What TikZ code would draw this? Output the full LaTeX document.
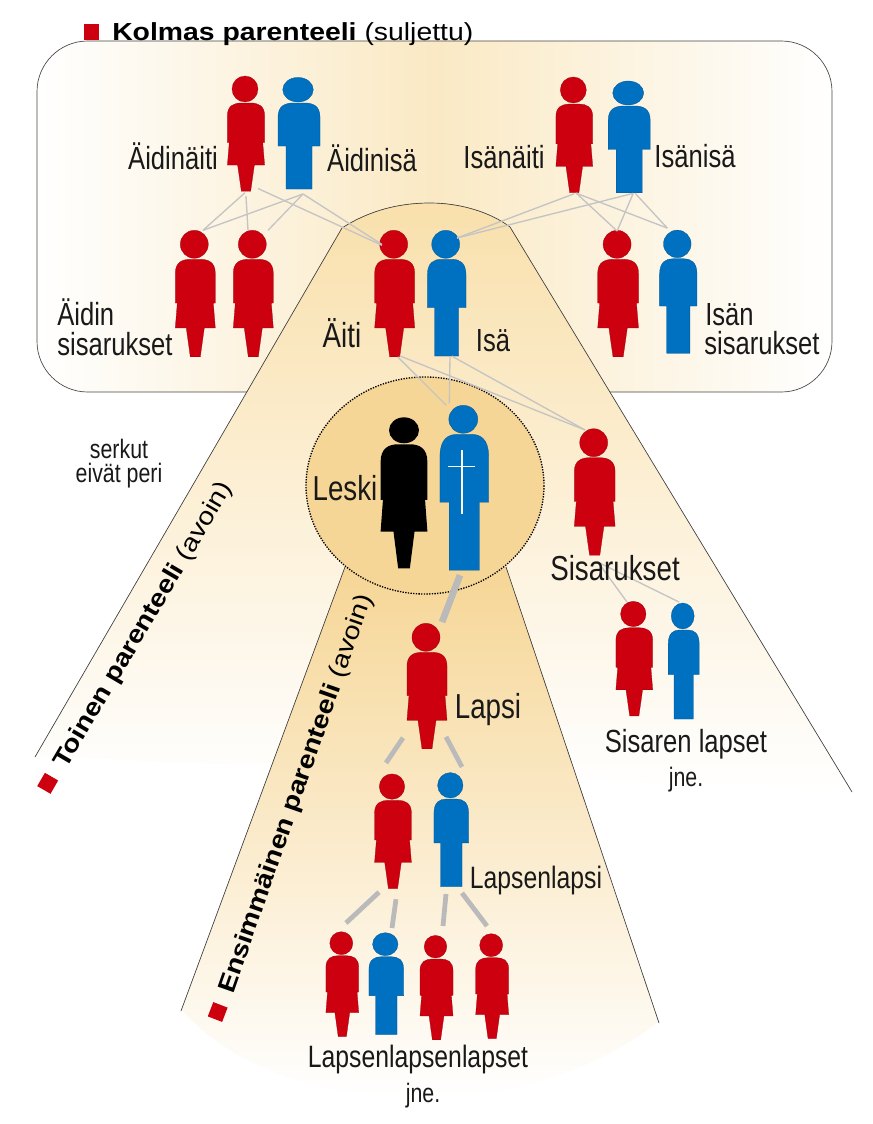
\documentclass[tikz,border=0pt]{standalone}
\usepackage{fontspec}
\setsansfont{Liberation Sans}[FakeStretch=.8]
\newfontfamily\headfont{Liberation Sans}[FakeStretch=1.15]
\usetikzlibrary{calc}
\definecolor{womanred}{RGB}{204,0,14}
\definecolor{manblue}{RGB}{0,112,192}
\definecolor{boxcream}{RGB}{250,233,196}
\definecolor{conefill}{RGB}{249,224,172}
\definecolor{innerfill}{RGB}{246,214,150}
\definecolor{linkgray}{RGB}{196,196,196}
\definecolor{edgegray}{RGB}{70,70,70}

\begin{document}
\begin{tikzpicture}[
  x=.75pt, y=-.75pt,
  font=\sffamily,
  edge/.style={draw=edgegray, line width=.5pt},
  thinlink/.style={draw=linkgray, line width=1pt},
  thicklink/.style={draw=linkgray!95!black, line width=3.6pt},
  crossline/.style={draw=white, line width=.9pt},
  lbl/.style={font=\sffamily\fontsize{24}{25}\selectfont, text=black!90, inner sep=0pt, anchor=base, align=center},
  lblmid/.style={lbl, font=\sffamily\fontsize{23.2}{24}\selectfont},
  lblbig/.style={lbl, font=\sffamily\fontsize{26}{27}\selectfont},
  lblsmall/.style={lbl, font=\sffamily\fontsize{20}{19}\selectfont},
  headlbl/.style={font=\headfont\fontsize{18.5}{19}\selectfont, text=black, inner sep=0pt, anchor=base west},
  marker/.style={fill=womanred, minimum size=11.5pt, inner sep=0pt},
  pics/woman/.style n args={4}{code={
    \fill[womanred, draw=womanred!75!black, line width=.2pt] (-1,-#4-1) ellipse [x radius=#3, y radius=#4];
    \fill[womanred, draw=womanred!75!black, line width=.2pt, xscale=#1, yscale=#2]
      (-20,44) -- (-20,14) .. controls (-20,3) and (-13,0) .. (-5,0) -- (5,0)
      .. controls (13,0) and (20,3) .. (20,14) -- (20,44) -- (18,44) -- (20,69) -- (9,69)
      -- (5,98) -- (-5,98) -- (-9,69) -- (-20,69) -- (-18,44) -- cycle;
    \coordinate (-head) at (-1,-2*#4-1);
    \coordinate (-foot) at (0,98*#2);
  }},
  pics/man/.style n args={4}{code={
    \fill[manblue, draw=manblue!75!black, line width=.2pt] (-1,-#4-1) ellipse [x radius=#3, y radius=#4];
    \fill[manblue, draw=manblue!75!black, line width=.2pt, xscale=#1, yscale=#2]
      (-21,43) -- (-21,14) .. controls (-21,3) and (-14,0) .. (-6,0) -- (6,0)
      .. controls (14,0) and (21,3) .. (21,14) -- (21,43) -- (13,43) -- (13,86)
      -- (-13,86) -- (-13,43) -- cycle;
    \coordinate (-head) at (-1,-2*#4-1);
    \coordinate (-foot) at (0,86*#2);
  }},
  pics/widow/.style n args={4}{code={
    \fill[black] (0,-#4-1) ellipse [x radius=#3, y radius=#4];
    \fill[black, xscale=#1, yscale=#2]
      (-20,44) -- (-20,14) .. controls (-20,3) and (-13,0) .. (-5,0) -- (5,0)
      .. controls (13,0) and (20,3) .. (20,14) -- (20,44) -- (18,44) -- (20,69) -- (9,69)
      -- (5,98) -- (-5,98) -- (-9,69) -- (-20,69) -- (-18,44) -- cycle;
  }}
]

\useasboundingbox (0,0) rectangle (872,1124);

\shade[left color=white, right color=white, middle color=boxcream, edge, draw, rounded corners=38pt]
  (37,41) rectangle (832,392);

\coordinate (outerleft) at (35,757);
\coordinate (outerright) at (852,792);
\coordinate (outertopl) at (342,228);
\coordinate (outertopr) at (510,227);
\fill[top color=conefill, bottom color=white]
  (outertopl) .. controls (370,210) and (400,203) .. (430,203)
  .. controls (460,203) and (490,212) .. (outertopr) -- (outerright) -- (outerleft) -- cycle;
\draw[white, line width=1.5pt] (outerright) -- (outerleft);
\draw[edge] (outerleft) -- (outertopl) .. controls (370,210) and (400,203) .. (430,203)
  .. controls (460,203) and (490,212) .. (outertopr) -- (outerright);

\coordinate (innertopl) at (345,567);
\coordinate (innertopr) at (506,567);
\coordinate (innerleft) at (181,1011);
\coordinate (innerright) at (659,1023);
\fill[top color=innerfill, bottom color=white]
  (innertopl) -- (innertopr) -- (innerright)
  .. controls (590,1075) and (510,1098) .. (420,1098)
  .. controls (320,1098) and (235,1070) .. (innerleft) -- cycle;
\draw[white, line width=1.5pt] (innerright)
  .. controls (590,1075) and (510,1098) .. (420,1098)
  .. controls (320,1098) and (235,1070) .. (innerleft);
\draw[edge] (innertopl) -- (innerleft) (innertopr) -- (innerright);

\draw[fill=innerfill, line width=1pt, densely dotted] (425,485.5) ellipse [x radius=119, y radius=108.5];

\pic (aidinaiti) at (246,103) {woman={.93}{.9}{13}{13}};
\pic (aidinisa) at (299,103) {man={1}{1}{15.3}{12.3}};
\pic (isanaiti) at (574.3,104) {woman={.92}{.905}{13}{13}};
\pic (isanisa) at (629.2,106) {man={1}{1.01}{15.5}{12}};
\pic (aisar1) at (195.3,259.3) {woman={1}{.995}{14}{14}};
\pic (aisar2) at (253.3,259.3) {woman={1}{.995}{14}{14}};
\pic (aiti) at (394.7,259.3) {woman={1}{.995}{14}{14}};
\pic (isa) at (446.7,259.3) {man={.92}{1.125}{14}{14}};
\pic (isisar) at (618.1,259.3) {woman={1.02}{.995}{14}{14}};
\pic (ivelji) at (678.3,258.7) {man={.89}{1.1}{13.8}{13.8}};
\pic (leski) at (404,444.3) {widow={1.17}{1.265}{15}{13}};
\pic (vainaja) at (464.3,434.3) {man={1.16}{1.58}{14.5}{14}};
\pic (sisar) at (594.7,457.7) {woman={1.02}{.995}{14}{14}};
\pic (sislapsi1) at (634.3,627.7) {woman={.92}{.9}{12.7}{12.7}};
\pic (sislapsi2) at (683.7,630) {man={.74}{1.035}{11.5}{13}};
\pic (lapsi) at (427,652.3) {woman={1}{.985}{14}{14}};
\pic (lapsenl1) at (393,800.3) {woman={.92}{.9}{12.7}{12.7}};
\pic (lapsenl2) at (451.3,799) {man={.826}{1.02}{12.7}{12.7}};
\pic (ll1) at (342.3,955.7) {woman={.82}{.825}{11.5}{11.5}};
\pic (ll2) at (386.3,956.7) {man={.826}{.905}{12.7}{11.5}};
\pic (ll3) at (436.5,959) {woman={.825}{.825}{11.3}{11.3}};
\pic (ll4) at (492.2,957.7) {woman={.825}{.825}{11.5}{11.5}};

\draw[crossline] (462,450) -- (462,514) (448.3,466.7) -- (475,466.7);

\foreach \from/\fx/\fy/\to/\tx/\ty in {
  aidinaiti/-1/1.5/aisar1/8.7/0, aidinaiti/0/5/aisar2/-4.3/0, aidinaiti/12/-2.7/aiti/-11.7/15,
  aidinisa/4/5/aisar1/8.7/0, aidinisa/4/5/aisar2/15.7/0, aidinisa/4/5/aiti/-12/14,
  isanaiti/0/1/isa/11.3/7.7, isanisa/4/.5/isa/11.3/7.7,
  isanaiti/2/.5/isisar/0/.7, isanisa/4/.5/isisar/0/.7,
  isanaiti/2/.5/ivelji/-10/-2, isanisa/6/.5/ivelji/-10/-2,
  aiti/3/0/vainaja/-17/0, aiti/5/-1/sisar/-8.7/1.3,
  isa/3.3/1/vainaja/-14/-2, isa/5/0/sisar/-8.7/1.3,
  sisar/3.3/7/sislapsi1/-6.3/.7, sisar/3.3/7/sislapsi2/-3.7/-1}
  \draw[thinlink] ([shift={(\fx,\fy)}]\from-foot) -- ([shift={(\tx,\ty)}]\to-head);

\draw[thicklink, line width=5pt] ([shift={(-4.3,5)}]vainaja-foot) -- ([shift={(16,-1.3)}]lapsi-head);
\foreach \from/\fx/\fy/\to/\tx/\ty in {
  lapsi/-24/-11/lapsenl1/-6/-11, lapsi/19/-12/lapsenl2/11.7/-5.6,
  lapsenl1/-14/3.7/ll1/4.7/-8.7, lapsenl1/3/10.7/ll2/6.7/-4.7,
  lapsenl2/-5.3/7.3/ll3/7.5/-9.4, lapsenl2/10.7/6.3/ll4/-4.2/-7.7}
  \draw[thicklink] ([shift={(\fx,\fy)}]\from-foot) -- ([shift={(\tx,\ty)}]\to-head);

\node[lbl] (laidinaiti) at (173,169) {Äidinäiti};
\node[lbl] (laidinisa) at (372,171) {Äidinisä};
\node[lbl] (lisanaiti) at (504,168) {Isänäiti};
\node[lbl] (lisanisa) at (695,167) {Isänisä};
\node[lbl, anchor=base west] (laisar) at (57,325) {Äidin};
\node[lbl, anchor=base west] (laisar2) at (57,355) {sisarukset};
\node[lbl, anchor=base west] (lisan) at (705,325) {Isän};
\node[lbl, anchor=base west] (lisan2) at (704,354) {sisarukset};
\node[lblbig] (laiti) at (342,347) {Äiti};
\node[lbl] (lisa) at (493,351) {Isä};
\node[lblsmall] (lserkut) at (119,458) {serkut};
\node[lblsmall] (leivat) at (119,482) {eivät peri};
\node[lblbig] (lleski) at (345,500) {Leski};
\node[lblbig] (lsisar) at (615,580) {Sisarukset};
\node[lbl] (lsislapset) at (686,752) {Sisaren lapset};
\node[lblsmall] (ljne1) at (686,786) {jne.};
\node[lblbig] (llapsi) at (488,718) {Lapsi};
\node[lblmid] (llapsenl) at (536,888) {Lapsenlapsi};
\node[lblmid] (lllapset) at (418,1067) {Lapsenlapsenlapset};
\node[lblsmall] (ljne2) at (423,1102) {jne.};

\node[marker] (mkolmas) at (91.5,32) {};
\node[headlbl] (lkolmas) at (112,40.5) {\textbf{Kolmas parenteeli} (suljettu)};
\node[marker, rotate=60] (mtoinen) at (47.7,783.3) {};
\node[headlbl, rotate=59.5] (ltoinen) at (66,770) {\textbf{Toinen parenteeli} (avoin)};
\node[marker, rotate=69] (mensi) at (217.7,1012) {};
\node[headlbl, rotate=70.7] (lensi) at (233,995) {\textbf{Ensimmäinen parenteeli} (avoin)};

\end{tikzpicture}
\end{document}
